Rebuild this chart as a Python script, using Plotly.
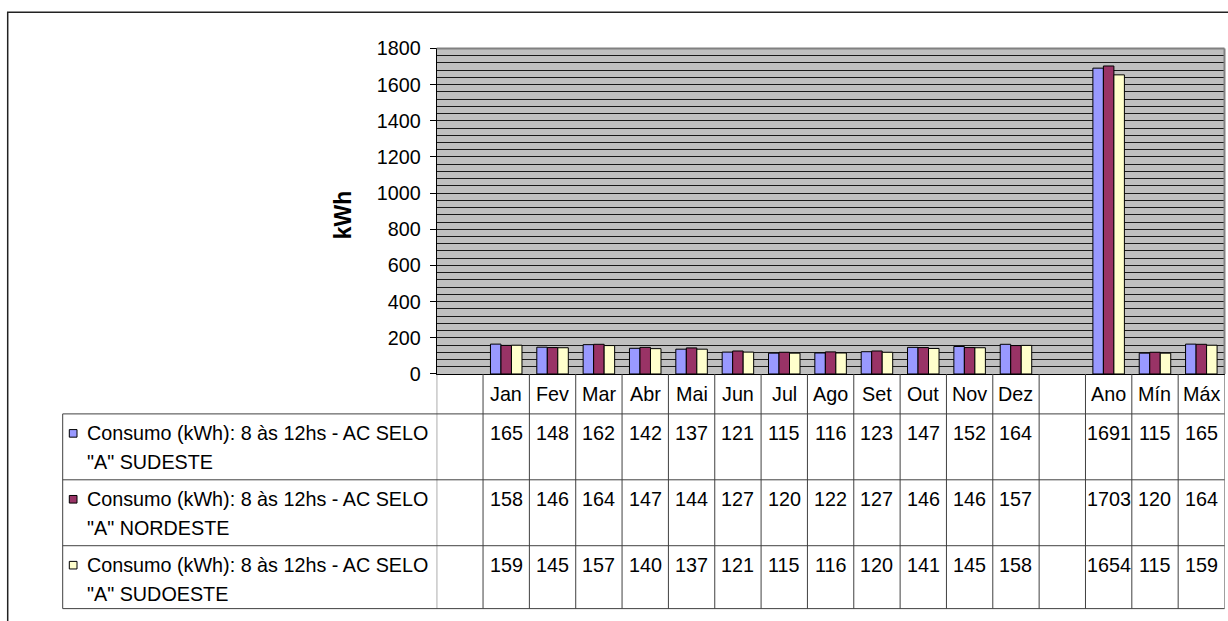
import plotly.graph_objects as go

# ---- data ----
categories = ["", "Jan", "Fev", "Mar", "Abr", "Mai", "Jun", "Jul", "Ago", "Set",
              "Out", "Nov", "Dez", "", "Ano", "Mín", "Máx"]

series_names = [
    'Consumo (kWh): 8 às 12hs - AC SELO "A" SUDESTE',
    'Consumo (kWh): 8 às 12hs - AC SELO "A" NORDESTE',
    'Consumo (kWh): 8 às 12hs - AC SELO "A" SUDOESTE',
]
sudeste = [None, 165, 148, 162, 142, 137, 121, 115, 116, 123, 147, 152, 164, None, 1691, 115, 165]
nordeste = [None, 158, 146, 164, 147, 144, 127, 120, 122, 127, 146, 146, 157, None, 1703, 120, 164]
sudoeste = [None, 159, 145, 157, 140, 137, 121, 115, 116, 120, 141, 145, 158, None, 1654, 115, 159]
series_values = [sudeste, nordeste, sudoeste]
series_colors = ["#9999FF", "#993366", "#FFFFCC"]

y_ticks = [0, 200, 400, 600, 800, 1000, 1200, 1400, 1600, 1800]

# ---- geometry ----
W, H = 1228, 621
# vertical layout positions below are page pixels; convert with offset/scale
Y_OFFSET, Y_SCALE = 9.5, 0.966
FONT = "Liberation Sans, Arial, sans-serif"
FS = 19.75


def px(x):
    return x / W


def py(y):
    return 1 - ((y - Y_OFFSET) / Y_SCALE) / H


plot_left, plot_right = 436.7, 1224.5
plot_top, plot_bottom = 47.0, 373.0
table_left = 62.7
row_edges = [373.0, 413.0, 479.0, 545.0, 608.0]

xs = list(range(len(categories)))

fig = go.Figure()
for name, vals, col in zip(series_names, series_values, series_colors):
    fig.add_trace(go.Bar(
        x=xs, y=vals, name=name,
        marker=dict(color=col, line=dict(color="black", width=1)),
        showlegend=False,
    ))

shapes = []
annotations = []

# outer chart frame
shapes.append(dict(type="rect", xref="paper", yref="paper",
                   x0=px(7.7), x1=px(1240), y0=py(660), y1=py(10.7),
                   line=dict(color="#222222", width=1.5), fillcolor="rgba(0,0,0,0)",
                   layer="above"))

# plot area top / right border
shapes.append(dict(type="line", xref="paper", yref="paper",
                   x0=px(plot_left), x1=px(plot_right), y0=py(plot_top), y1=py(plot_top),
                   line=dict(color="#808080", width=2), layer="above"))
shapes.append(dict(type="line", xref="paper", yref="paper",
                   x0=px(plot_right), x1=px(plot_right), y0=py(plot_top), y1=py(plot_bottom),
                   line=dict(color="#808080", width=2), layer="above"))

# data table: column separators
for i in range(len(categories) + 1):
    shapes.append(dict(type="line", xref="x", yref="paper",
                       x0=i - 0.5, x1=i - 0.5, y0=py(row_edges[0]), y1=py(row_edges[-1]),
                       line=dict(color="#404040", width=1)))
# legend column left edge
shapes.append(dict(type="line", xref="paper", yref="paper",
                   x0=px(table_left), x1=px(table_left), y0=py(row_edges[1]), y1=py(row_edges[-1]),
                   line=dict(color="#404040", width=1)))
# row separators
for r in row_edges[1:]:
    shapes.append(dict(type="line", xref="paper", yref="paper",
                       x0=px(table_left), x1=px(plot_right), y0=py(r), y1=py(r),
                       line=dict(color="#404040", width=1)))

# category labels
for i, c in enumerate(categories):
    if c:
        annotations.append(dict(x=i, y=py(393), xref="x", yref="paper", text=c,
                                showarrow=False, xanchor="center", yanchor="middle",
                                font=dict(family=FONT, size=FS, color="black")))

# series rows: legend key, name and values
for k, (name, vals, col) in enumerate(zip(series_names, series_values, series_colors)):
    top = row_edges[k + 1]
    y1 = top + 19.5
    y2 = top + 48.5
    split = name.index('"A"')
    line1, line2 = name[:split].strip(), name[split:]
    shapes.append(dict(type="rect", xref="paper", yref="paper",
                       x0=px(69.3), x1=px(77.0), y0=py(y1 + 3.8), y1=py(y1 - 3.8),
                       line=dict(color="black", width=1), fillcolor=col))
    annotations.append(dict(x=px(85), y=py(y1), xref="paper", yref="paper", text=line1,
                            showarrow=False, xanchor="left", yanchor="middle",
                            font=dict(family=FONT, size=FS, color="black")))
    annotations.append(dict(x=px(85), y=py(y2), xref="paper", yref="paper", text=line2,
                            showarrow=False, xanchor="left", yanchor="middle",
                            font=dict(family=FONT, size=FS, color="black")))
    for i, v in enumerate(vals):
        if v is not None:
            annotations.append(dict(x=i, y=py(y1), xref="x", yref="paper", text=str(v),
                                    showarrow=False, xanchor="center", yanchor="middle",
                                    font=dict(family=FONT, size=FS, color="black")))

# y axis title
annotations.append(dict(x=px(343), y=py(214), xref="paper", yref="paper", text="<b>kWh</b>",
                        showarrow=False, textangle=-90, xanchor="center", yanchor="middle",
                        font=dict(family=FONT, size=23, color="black")))

fig.update_layout(
    width=W, height=H,
    margin=dict(l=0, r=0, t=0, b=0),
    paper_bgcolor="white",
    plot_bgcolor="#C0C0C0",
    barmode="group",
    bargap=0.32,
    bargroupgap=0,
    font=dict(family=FONT, size=FS, color="black"),
    shapes=shapes,
    annotations=annotations,
    xaxis=dict(
        domain=[px(plot_left), px(plot_right)],
        range=[-0.5, len(categories) - 0.5],
        showticklabels=False, ticks="", showgrid=False, zeroline=False,
        showline=True, linecolor="black", linewidth=1,
    ),
    yaxis=dict(
        domain=[py(plot_bottom), py(plot_top)],
        range=[0, 1800],
        tickvals=y_ticks,
        ticks="outside", ticklen=6, tickcolor="black",
        ticklabelstandoff=5,
        showgrid=True, gridcolor="#1a1a1a", gridwidth=1,
        minor=dict(dtick=40, showgrid=True, gridcolor="#1a1a1a", gridwidth=1),
        zeroline=False,
        showline=True, linecolor="black", linewidth=1,
        tickfont=dict(family=FONT, size=FS, color="black"),
    ),
)

fig.write_html("out.html")
